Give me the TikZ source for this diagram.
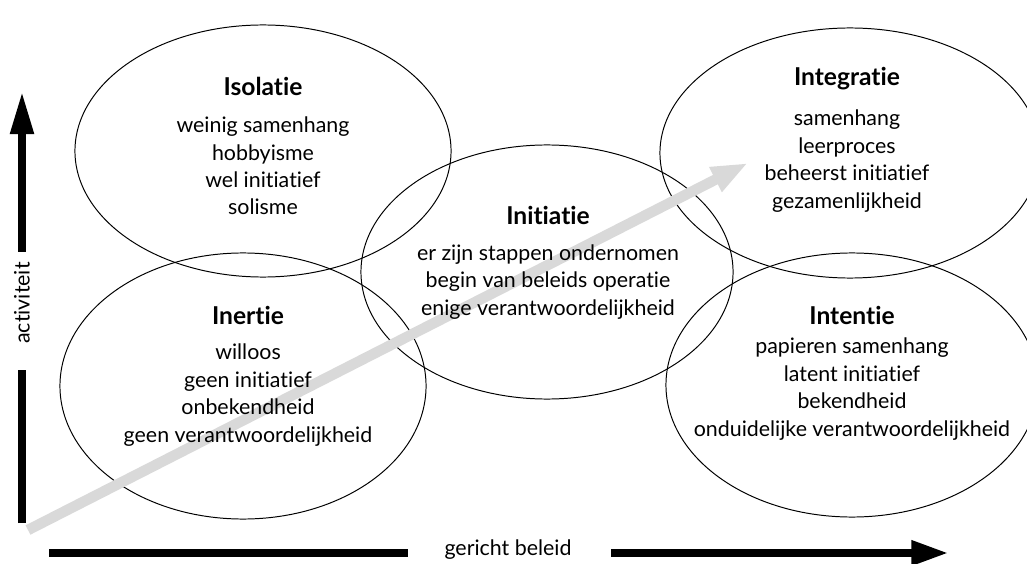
\documentclass[tikz,border=0pt]{standalone}
\usepackage{fontspec}
\setmainfont{Lato}[Ligatures=NoCommon]
\usetikzlibrary{shapes.geometric,arrows.meta}
\tikzset{
  fase/.style={draw, ellipse, inner sep=0pt, line width=0.7pt},
  kop/.style={font=\fontsize{17.5}{20}\selectfont\bfseries},
  tekst/.style={align=center, font=\fontsize{15.2}{19.5}\selectfont},
  as/.style={line width=5pt},
}
\begin{document}
\begin{tikzpicture}[x=0.025cm, y=-0.025cm]
	\useasboundingbox (0,0) rectangle (1027,564);
	% fasen
	\node[fase, minimum width=9.4cm, minimum height=6.3cm] (isolatie) at (263,151) {};
	\node[fase, minimum width=9.5cm, minimum height=6.25cm] (integratie) at (850,153) {};
	\node[fase, minimum width=9.15cm, minimum height=6.65cm] (inertie) at (243,386) {};
	\node[fase, minimum width=9.3cm, minimum height=6.6cm] (intentie) at (852,385) {};
	\node[fase, minimum width=9.3cm, minimum height=6.35cm] (initiatie) at (547,272) {};
	% grijze pijl
	\coordinate (start) at (28,530);
	\coordinate (eind) at (748,163);
	\draw[line width=7.5pt, gray!30, -{Triangle[length=26pt, width=18pt]}] (start) -- (eind);
	% teksten
	\node[kop] (t-isolatie) at (263,86) {Isolatie};
	\node[tekst] (l-isolatie) at (263,166) {weinig samenhang\\hobbyisme\\wel initiatief\\solisme};
	\node[kop] (t-integratie) at (847,79) {Integratie};
	\node[tekst] (l-integratie) at (847,161) {samenhang\\leerproces\\beheerst initiatief\\gezamenlijkheid};
	\node[kop] (t-initiatie) at (548,215) {Initiatie};
	\node[tekst] (l-initiatie) at (548,282) {er zijn stappen ondernomen\\begin van beleids operatie\\enige verantwoordelijkheid};
	\node[kop] (t-inertie) at (248,315) {Inertie};
	\node[tekst] (l-inertie) at (248,395) {willoos\\geen initiatief\\onbekendheid\\geen verantwoordelijkheid};
	\node[kop] (t-intentie) at (852,315) {Intentie};
	\node[tekst] (l-intentie) at (852,389) {papieren samenhang\\latent initiatief\\bekendheid\\onduidelijke verantwoordelijkheid};
	% assen
	\node[tekst, rotate=90] (activiteit) at (22,303) {activiteit};
	\coordinate (y0) at (22,523);
	\coordinate (y1) at (22,370);
	\coordinate (y2) at (22,252);
	\coordinate (y3) at (22,92);
	\draw[as] (y0) -- (y1);
	\draw[as, -{Triangle[length=30pt, width=16pt]}] (y2) -- (y3);
	\node[tekst] (beleid) at (508,550) {gericht beleid};
	\coordinate (x0) at (49,553);
	\coordinate (x1) at (408,553);
	\coordinate (x2) at (611,553);
	\coordinate (x3) at (948,553);
	\draw[as] (x0) -- (x1);
	\draw[as, -{Triangle[length=26pt, width=17pt]}] (x2) -- (x3);
\end{tikzpicture}
\end{document}
